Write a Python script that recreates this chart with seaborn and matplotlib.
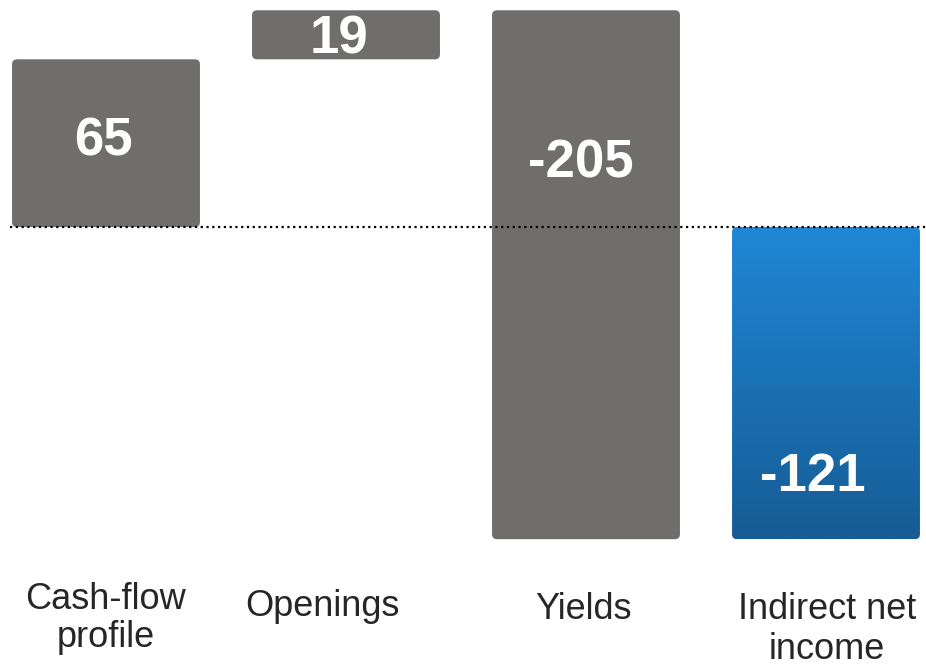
import numpy as np
import pandas as pd
import matplotlib
matplotlib.use("Agg")
import matplotlib.pyplot as plt
from matplotlib.patches import FancyBboxPatch
from matplotlib.colors import LinearSegmentedColormap
import matplotlib.transforms as mtransforms
import seaborn as sns

# Waterfall components
categories = ["Cash-flow\nprofile", "Openings", "Yields", "Indirect net\nincome"]
values = [65, 19, -205, -121]
is_total = [False, False, False, True]

# bar extents: deltas stack on the running sum, the total starts from zero
bottoms, heights = [], []
running = 0
for v, tot in zip(values, is_total):
    if tot:
        bottoms.append(0)
        heights.append(v)
        running = v
    else:
        bottoms.append(running)
        heights.append(v)
        running += v

GREY = "#706e6c"
BLUE_TOP = "#1f87d6"
BLUE_BOTTOM = "#165c95"

sns.set_theme(style="white")
plt.rcParams["font.family"] = ["Liberation Sans", "DejaVu Sans"]

fig = plt.figure(figsize=(9.26, 6.68), dpi=100)
ax = fig.add_axes([0, 0, 1, 1])

df = pd.DataFrame({"category": categories, "height": heights})
sns.barplot(data=df, x="category", y="height", order=categories,
            bottom=bottoms, color=GREY, width=0.783, saturation=1,
            ax=ax, linewidth=0)

# axis geometry (pixels per unit)
px_per_x = 240.0
px_per_y = 2.58
ax.set_xlim(-106 / px_per_x, (926 - 106) / px_per_x)
ax.set_ylim(-(668 - 227) / px_per_y, 227 / px_per_y)
ax.axis("off")

# rounded bars replacing the plain rectangles
radius_px = 5
r = radius_px / px_per_x
aspect = px_per_x / px_per_y
value_frac = [0.49, 0.60, 0.29, 0.80]     # label height, measured down from bar top
value_dx_px = [-3, -7, -5, -13]
cmap = LinearSegmentedColormap.from_list("blue_grad", [BLUE_TOP, BLUE_BOTTOM])

bars = list(ax.patches)
for i, rect in enumerate(bars):
    x0, y0 = rect.get_x(), rect.get_y()
    w, h = rect.get_width(), rect.get_height()
    rect.remove()
    ylo, yhi = min(y0, y0 + h), max(y0, y0 + h)
    box = FancyBboxPatch((x0, ylo), w, yhi - ylo,
                         boxstyle=f"round,pad=0,rounding_size={r}",
                         mutation_aspect=aspect,
                         facecolor=GREY if not is_total[i] else "none",
                         edgecolor="none", zorder=2)
    ax.add_patch(box)
    if is_total[i]:
        grad = np.linspace(0, 1, 256).reshape(-1, 1)
        im = ax.imshow(grad, cmap=cmap, aspect="auto",
                       extent=(x0, x0 + w, ylo, yhi), origin="upper",
                       zorder=2)
        im.set_clip_path(box)
    # value label inside the bar
    ytxt = yhi - value_frac[i] * (yhi - ylo)
    ax.text(x0 + w / 2 + value_dx_px[i] / px_per_x, ytxt, f"{values[i]}",
            ha="center", va="center", color="white", fontsize=38,
            fontweight="bold", zorder=3)

# dotted baseline
ax.axhline(0, xmin=10 / 926, xmax=1, color="black", lw=1.6,
           linestyle=(0, (1, 1.6)), zorder=4)

# category labels below the bars
label_top_px = [582, 589, 592, 592]
label_dx_px = [0, -24, -3, 1]
label_spacing = [1.1, 1.1, 1.1, 1.18]
trans = mtransforms.blended_transform_factory(ax.transData, ax.transAxes)
for i, cat in enumerate(categories):
    ax.text(i + label_dx_px[i] / px_per_x, 1 - label_top_px[i] / 668, cat,
            transform=trans, ha="center", va="top", multialignment="center",
            fontsize=26, color="#262626", linespacing=label_spacing[i])

ax.set_xticks([])
ax.set_yticks([])
fig.savefig("out.png", dpi=100)
